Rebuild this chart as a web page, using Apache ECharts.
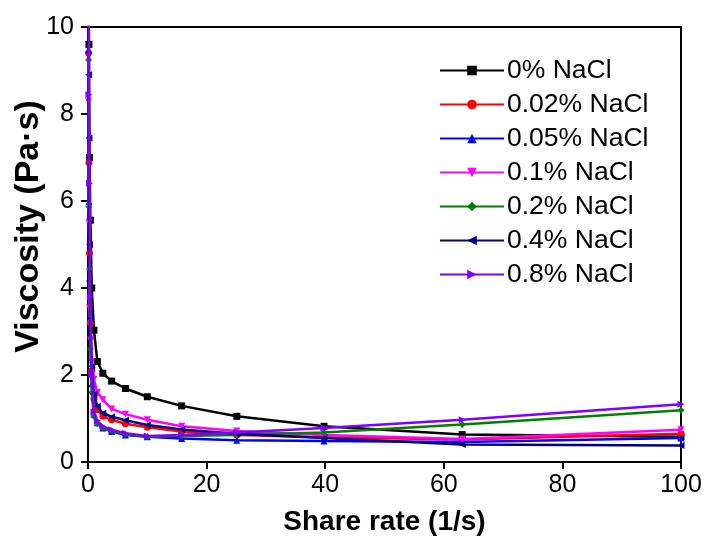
<!DOCTYPE html>
<html>
<head>
<meta charset="utf-8">
<script src="https://cdn.jsdelivr.net/npm/echarts@6/dist/echarts.min.js"></script>
<style>html,body{margin:0;padding:0;background:#fff}#c{width:705px;height:543px}</style>
</head>
<body>
<div id="c"></div>
<script>
const shearRate = [0.1, 0.158, 0.251, 0.398, 0.631, 1, 1.58, 2.51, 3.98, 6.31, 10, 15.8, 25.1, 39.8, 63.1, 100];
const seriesNames = ['0% NaCl', '0.02% NaCl', '0.05% NaCl', '0.1% NaCl', '0.2% NaCl', '0.4% NaCl', '0.8% NaCl'];
const visc0 =   [14.0, 9.6, 7.0, 5.56, 4.0, 3.03, 2.31, 2.04, 1.86, 1.69, 1.50, 1.29, 1.05, 0.82, 0.63, 0.58];
const visc002 = [9.4, 6.88, 4.8, 3.2, 2.1, 1.45, 1.20, 1.05, 0.97, 0.88, 0.80, 0.70, 0.62, 0.57, 0.52, 0.65];
const visc005 = [9.47, 5.98, 4.23, 2.9, 1.8, 1.10, 0.90, 0.78, 0.70, 0.62, 0.58, 0.54, 0.50, 0.48, 0.46, 0.55];
const visc01 =  [8.28, 5.5, 3.54, 2.8, 2.3, 1.90, 1.60, 1.43, 1.22, 1.10, 0.97, 0.82, 0.71, 0.62, 0.53, 0.74];
const visc02 =  [9.24, 5.87, 4.44, 2.6, 1.6, 1.05, 0.88, 0.78, 0.72, 0.64, 0.58, 0.60, 0.62, 0.68, 0.86, 1.19];
const visc04 =  [8.9, 7.45, 5.0, 3.3, 2.2, 1.55, 1.28, 1.12, 1.04, 0.96, 0.85, 0.75, 0.65, 0.55, 0.40, 0.38];
const visc08 =  [11.0, 8.44, 6.41, 3.8, 2.0, 1.15, 0.95, 0.82, 0.74, 0.66, 0.60, 0.62, 0.68, 0.78, 0.97, 1.33];
const xTicks = [0, 20, 40, 60, 80, 100];
const yTicks = [0, 2, 4, 6, 8, 10];

const allVisc = [visc0, visc002, visc005, visc01, visc02, visc04, visc08];
const colors = ['#000000', '#ff0000', '#0000ff', '#ff00ff', '#008000', '#000080', '#8000ff'];
const symbols = ['rect', 'circle', 'triangle', 'path://M0,0 L10,0 L5,10 Z', 'diamond',
  'path://M0,5 L10,0 L10,10 Z', 'path://M0,0 L10,5 L0,10 Z'];

const chart = echarts.init(document.getElementById('c'), null, {renderer: 'canvas'});
const font = 'Liberation Sans, Arial, sans-serif';
chart.setOption({
  animation: false,
  backgroundColor: '#fff',
  grid: {left: 88, right: 24, top: 27, bottom: 81, show: true, borderColor: '#000', borderWidth: 2,
         backgroundColor: 'transparent', containLabel: false, outerBoundsMode: 'none'},
  legend: {
    orient: 'vertical', left: 434, top: 52,
    itemWidth: 64, itemHeight: 12, itemGap: 7,
    textStyle: {fontFamily: font, fontSize: 26.5, color: '#000', lineHeight: 26, padding: [0,0,0,-2]},
    data: seriesNames
  },
  xAxis: {
    type: 'value', min: xTicks[0], max: xTicks[xTicks.length-1], interval: 20,
    name: 'Share rate (1/s)', nameLocation: 'middle', nameGap: 46, nameMoveOverlap: false,
    nameTextStyle: {fontFamily: font, fontSize: 28, fontWeight: 'bold', color: '#000'},
    axisLine: {lineStyle: {color: '#000', width: 2}},
    axisTick: {show: true, inside: false, length: 7, lineStyle: {color: '#000', width: 2}},
    axisLabel: {fontFamily: font, fontSize: 25, color: '#000', margin: 11},
    splitLine: {show: false}
  },
  yAxis: {
    type: 'value', min: yTicks[0], max: yTicks[yTicks.length-1], interval: 2,
    name: 'Viscosity (Pa·s)', nameLocation: 'middle', nameGap: 42, nameMoveOverlap: false,
    nameTextStyle: {fontFamily: font, fontSize: 34, fontWeight: 'bold', color: '#000', padding: [0, 0, 0, 36]},
    axisLine: {lineStyle: {color: '#000', width: 2}},
    axisTick: {show: true, inside: false, length: 7, lineStyle: {color: '#000', width: 2}},
    axisLabel: {fontFamily: font, fontSize: 25, color: '#000', margin: 14},
    splitLine: {show: false}
  },
  series: seriesNames.map((n, i) => ({
    name: n, type: 'line',
    data: shearRate.map((x, j) => [x, allVisc[i][j]]),
    symbol: symbols[i], symbolSize: 7, showSymbol: true,
    clip: true,
    lineStyle: {color: colors[i], width: 2.5},
    itemStyle: {color: colors[i]},
    z: 2 + i
  }))
});
</script>
</body>
</html>
